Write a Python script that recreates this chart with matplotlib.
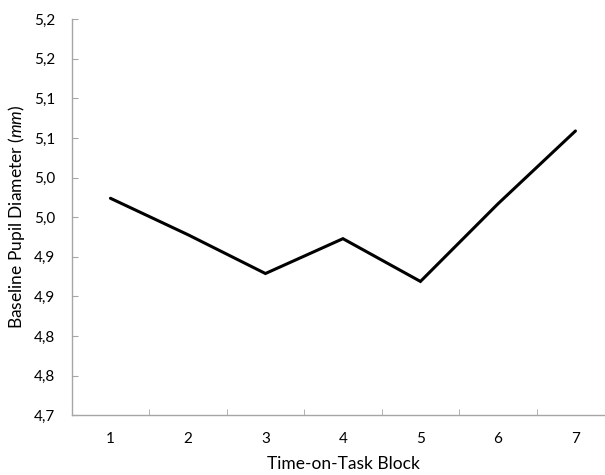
import matplotlib
matplotlib.use('Agg')
import matplotlib.pyplot as plt

# data
blocks = [1, 2, 3, 4, 5, 6, 7]
pupil = [4.974, 4.928, 4.879, 4.923, 4.869, 4.967, 5.059]
x_labels = ['1', '2', '3', '4', '5', '6', '7']
y_ticks = [4.70, 4.75, 4.80, 4.85, 4.90, 4.95, 5.00, 5.05, 5.10, 5.15, 5.20]
y_labels = ['4,7', '4,8', '4,8', '4,9', '4,9', '5,0', '5,0', '5,1', '5,1', '5,2', '5,2']

plt.rcParams['font.family'] = ['Lato', 'DejaVu Sans']
plt.rcParams['mathtext.fontset'] = 'custom'
plt.rcParams['mathtext.it'] = 'Lato:italic'
plt.rcParams['mathtext.rm'] = 'Lato'

fig = plt.figure(figsize=(6.05, 4.75), dpi=100)
ax = fig.add_axes([0.1185, 0.1257, 0.8967, 0.8337])

ax.plot(blocks, pupil, color='black', linewidth=2.2, solid_capstyle='round', solid_joinstyle='miter')

ax.set_xlim(0.5, 7.5)
ax.set_ylim(4.70, 5.20)
ax.set_yticks(y_ticks)
ax.set_yticklabels(y_labels)
ax.set_xticks(blocks)
ax.set_xticklabels(x_labels)
ax.set_xticks([1.5, 2.5, 3.5, 4.5, 5.5, 6.5], minor=True)

grey = '#a6a6a6'
for s in ['top', 'right']:
    ax.spines[s].set_visible(False)
for s in ['left', 'bottom']:
    ax.spines[s].set_color(grey)
    ax.spines[s].set_linewidth(1.0)

ax.tick_params(axis='y', direction='in', length=4, color=grey, labelsize=11, pad=12)
ax.tick_params(axis='x', which='major', length=0, labelsize=11, pad=12)
ax.tick_params(axis='x', which='minor', direction='in', length=4, color=grey)

ax.set_xlabel('Time-on-Task Block', fontsize=12.5, labelpad=7)
ax.set_ylabel('Baseline Pupil Diameter ($\\mathit{mm}$)', fontsize=12.5, labelpad=5)

plt.savefig('out.png', dpi=100)
